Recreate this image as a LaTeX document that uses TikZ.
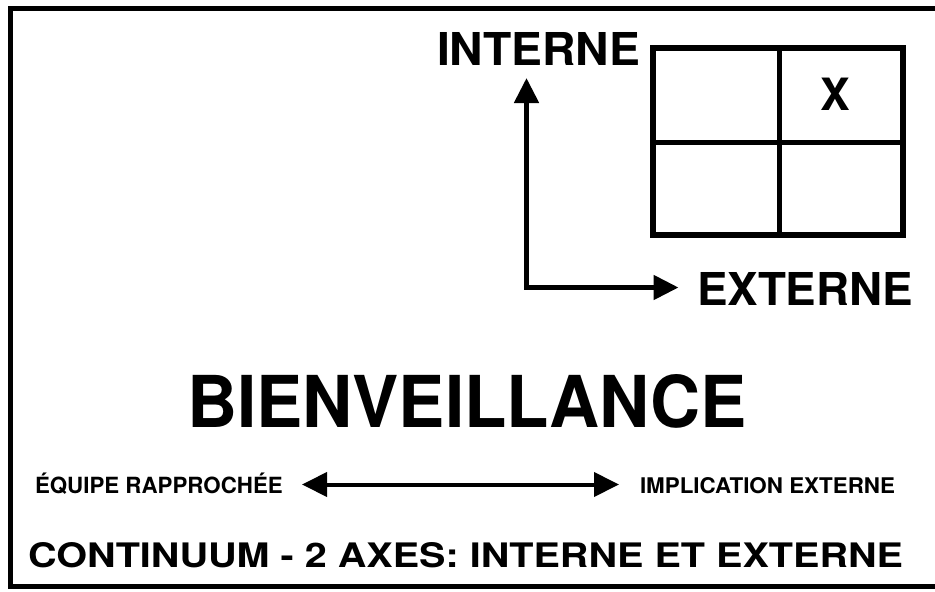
\documentclass[tikz,border=0pt]{standalone}
\usepackage{fontspec}
\setmainfont{TeX Gyre Heros}
\usetikzlibrary{arrows.meta}
\tikzset{
  frameline/.style={line width=5pt},
  gridouter/.style={line width=5.5pt},
  gridinner/.style={line width=4.3pt},
  axisarrow/.style={line width=5pt,{Triangle[length=25pt,width=24pt]}-{Triangle[length=25pt,width=24pt]}},
  spanarrow/.style={line width=4pt,{Triangle[length=25pt,width=24pt]}-{Triangle[length=25pt,width=24pt]}},
  label/.style={inner sep=0pt,outer sep=0pt,anchor=base west,font=\bfseries}
}
\begin{document}
\begin{tikzpicture}[x=1pt,y=-1pt]
  \clip (0,0) rectangle (935,592);
  \fill[white] (0,0) rectangle (935,592);

  % outer frame (its right side runs past the page edge)
  \draw[frameline] (945,8.5) -- (10.5,8.5) -- (10.5,586.5) -- (945,586.5);

  % 2x2 grid
  \draw[gridouter] (653,48) rectangle (903,235);
  \draw[gridinner] (779.5,48) -- (779.5,235);
  \draw[gridinner] (653,142.5) -- (903,142.5);
  \node[inner sep=0pt,anchor=base,font=\bfseries\fontsize{44.5}{44.5}\selectfont] (mark) at (835,110) {X};

  % axes
  \coordinate (vtip) at (526.5,78);
  \coordinate (corner) at (526.5,287.5);
  \coordinate (htip) at (678.5,287.5);
  \draw[axisarrow] (vtip) -- (corner) -- (htip);

  \node[label] (interne) at (437,65) {\resizebox{203pt}{33pt}{INTERNE}};
  \node[label] (externe) at (697,305) {\resizebox{216pt}{33pt}{EXTERNE}};

  % title
  \node[label] (title) at (187,427) {\resizebox{560pt}{53pt}{BIENVEILLANCE}};

  % continuum
  \node[label,font=\bfseries\fontsize{22.3}{22.3}\selectfont] (equipe) at (35,493) {ÉQUIPE RAPPROCHÉE};
  \node[label] (implication) at (640,493) {\resizebox{255pt}{16pt}{IMPLICATION EXTERNE}};
  \coordinate (lefttip) at (302,484.5);
  \coordinate (righttip) at (619,484.5);
  \draw[spanarrow] (lefttip) -- (righttip);

  % caption
  \node[label] (caption) at (28,567) {\resizebox{875pt}{25pt}{CONTINUUM - 2 AXES: INTERNE ET EXTERNE}};
\end{tikzpicture}
\end{document}
